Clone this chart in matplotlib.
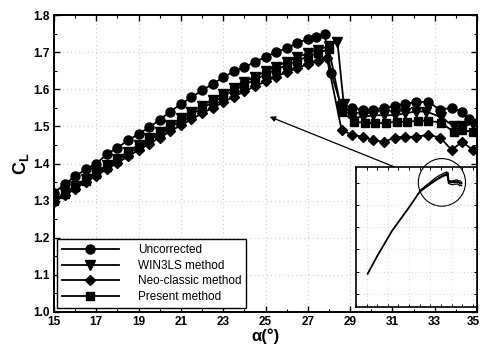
import matplotlib
matplotlib.use("Agg")
import matplotlib.pyplot as plt
from matplotlib.patches import Ellipse
from matplotlib.ticker import MultipleLocator, NullFormatter
from matplotlib.transforms import ScaledTranslation

# ---------------- data ----------------
a_unc = [15, 15.5, 16, 16.5, 17, 17.5, 18, 18.5, 19, 19.5, 20, 20.5, 21, 21.5, 22, 22.5,
         23, 23.5, 24, 24.5, 25, 25.5, 26, 26.5, 27, 27.4, 27.8,
         28.1, 28.55, 29.1, 29.6, 30.1, 30.6, 31.1, 31.6, 32.1, 32.7, 33.25, 33.8, 34.3, 34.6]
cl_unc = [1.32, 1.345, 1.365, 1.385, 1.40, 1.425, 1.443, 1.462, 1.48, 1.497, 1.518, 1.54, 1.56,
          1.578, 1.597, 1.614, 1.632, 1.648, 1.66, 1.673, 1.687, 1.70, 1.71, 1.725, 1.735, 1.742, 1.75,
          1.645, 1.56, 1.55, 1.545, 1.545, 1.55, 1.555, 1.56, 1.566, 1.566, 1.545, 1.55, 1.54, 1.52]

a_win = [15, 15.5, 16, 16.5, 17, 17.5, 18, 18.5, 19, 19.5, 20, 20.5, 21, 21.5, 22, 22.5,
         23, 23.5, 24, 24.5, 25, 25.5, 26, 26.5, 27, 27.5, 28,
         28.4, 28.7, 29.1, 29.6, 30.1, 30.6, 31.1, 31.6, 32.1, 32.6, 33.3, 33.9, 34.3, 34.8]
cl_win = [1.30, 1.32, 1.34, 1.358, 1.376, 1.395, 1.413, 1.432, 1.45, 1.468, 1.486, 1.504, 1.522,
          1.539, 1.556, 1.572, 1.588, 1.604, 1.619, 1.634, 1.648, 1.661, 1.674, 1.686, 1.697, 1.707, 1.716,
          1.728, 1.56, 1.525, 1.525, 1.53, 1.53, 1.53, 1.535, 1.54, 1.54, 1.525, 1.50, 1.50, 1.507]

a_neo = [15, 15.5, 16, 16.5, 17, 17.5, 18, 18.5, 19, 19.5, 20, 20.5, 21, 21.5, 22, 22.5,
         23, 23.5, 24, 24.5, 25, 25.5, 26, 26.5, 27, 27.5, 27.9,
         28.6, 29.1, 29.6, 30.1, 30.6, 31.1, 31.6, 32.1, 32.7, 33.25, 33.8, 34.3, 34.8]
cl_neo = [1.296, 1.314, 1.332, 1.35, 1.367, 1.385, 1.402, 1.419, 1.436, 1.453, 1.47, 1.487, 1.503,
          1.519, 1.535, 1.55, 1.565, 1.58, 1.594, 1.608, 1.621, 1.634, 1.646, 1.657, 1.667, 1.676, 1.685,
          1.49, 1.477, 1.472, 1.463, 1.458, 1.47, 1.472, 1.472, 1.477, 1.47, 1.437, 1.458, 1.437]

a_pres = [15, 15.5, 16, 16.5, 17, 17.5, 18, 18.5, 19, 19.5, 20, 20.5, 21, 21.5, 22, 22.5,
          23, 23.5, 24, 24.5, 25, 25.5, 26, 26.5, 27, 27.5, 28,
          28.6, 29.2, 29.7, 30.2, 30.7, 31.2, 31.7, 32.2, 32.7, 33.3, 33.9, 34.3, 34.8]
cl_pres = [1.298, 1.317, 1.336, 1.354, 1.372, 1.39, 1.408, 1.426, 1.444, 1.462, 1.48, 1.498, 1.515,
           1.532, 1.549, 1.565, 1.581, 1.597, 1.612, 1.626, 1.64, 1.653, 1.665, 1.677, 1.688, 1.698, 1.708,
           1.54, 1.512, 1.51, 1.508, 1.51, 1.512, 1.512, 1.515, 1.515, 1.51, 1.485, 1.49, 1.485]

# low-angle part of the full curve shown in the inset
a_low = [-9.5, -5, 2, 10, 15]
cl_low = [-0.55, -0.15, 0.42, 0.95, 1.3]

labels = ["Uncorrected", "WIN3LS method", "Neo-classic method", "Present method"]
xticks = [15, 17, 19, 21, 23, 25, 27, 29, 31, 33, 35]
yticks = [1.0, 1.1, 1.2, 1.3, 1.4, 1.5, 1.6, 1.7, 1.8]

# ---------------- figure ----------------
plt.rcParams['font.family'] = ['Liberation Sans', 'DejaVu Sans']
plt.rcParams['mathtext.fontset'] = 'custom'
plt.rcParams['mathtext.rm'] = 'Liberation Sans:bold'
plt.rcParams['mathtext.bf'] = 'Liberation Sans:bold'
plt.rcParams['mathtext.it'] = 'Liberation Sans:bold'

fig = plt.figure(figsize=(4.82, 3.47), dpi=100)
ax = fig.add_axes([54/482, 1-312/347, (477-54)/482, (312-15)/347])

series = [(a_unc, cl_unc, 'o', 6.5), (a_win, cl_win, 'v', 6.5),
          (a_neo, cl_neo, 'D', 5.2), (a_pres, cl_pres, 's', 6.0)]
for (a, c, m, ms), lab in zip(series, labels):
    ax.plot(a, c, color='black', marker=m, markersize=ms, linewidth=1.3, label=lab)

ax.set_xlim(15, 35)
ax.set_ylim(1.0, 1.8)
ax.set_xticks(xticks)
ax.set_yticks(yticks)
ax.set_yticklabels([f"{v:.1f}" for v in yticks])
ax.xaxis.set_minor_locator(MultipleLocator(1))
ax.yaxis.set_minor_locator(MultipleLocator(0.05))
ax.tick_params(which='both', direction='in', top=True, right=True)
ax.tick_params(which='major', length=4, width=1, labelsize=8.5, pad=3)
ax.tick_params(which='minor', length=2, width=0.8)
for lbl in ax.get_xticklabels() + ax.get_yticklabels():
    lbl.set_fontweight('bold')
# keep the last x tick label inside the figure edge
last = ax.get_xticklabels()[-1]
last.set_transform(last.get_transform() + ScaledTranslation(-4/100, 0, fig.dpi_scale_trans))
for sp in ax.spines.values():
    sp.set_linewidth(1.4)
ax.grid(True, which='major', linestyle=(0, (1, 4)), color='#b0b0b0', linewidth=0.6)

ax.set_ylabel(r'$\mathbf{C_L}$', fontsize=13, labelpad=2)
ax.set_xlabel('α(°)', fontsize=12, fontweight='bold', labelpad=0)

leg = ax.legend(loc='lower left', bbox_to_anchor=(0.008, 0.015), fontsize=8.5,
                frameon=True, fancybox=False, edgecolor='black', framealpha=1,
                handlelength=4.8, handletextpad=1.6, labelspacing=0.3,
                borderpad=0.4, borderaxespad=0)
leg.get_frame().set_linewidth(1.0)

# arrow from inset circle to stall region
ax.annotate('', xy=(25.2, 1.526), xytext=(32.0, 1.37),
            arrowprops=dict(arrowstyle='-|>', color='black', lw=0.9,
                            mutation_scale=8, shrinkA=0, shrinkB=0))

# ---------------- inset ----------------
axi = fig.add_axes([356/482, 1-307/347, (477-356)/482, (307-167)/347])
axi.plot(a_low, cl_low, color='black', linewidth=1.3)
for a, c, m, ms in series:
    axi.plot(a, c, color='black', linewidth=0.9)
axi.set_xlim(-15, 42)
axi.set_ylim(-1.3, 1.86)
axi.xaxis.set_major_locator(MultipleLocator(10))
axi.xaxis.set_minor_locator(MultipleLocator(5))
axi.yaxis.set_major_locator(MultipleLocator(0.5))
axi.xaxis.set_major_formatter(NullFormatter())
axi.yaxis.set_major_formatter(NullFormatter())
axi.tick_params(which='both', direction='in', top=True, right=True, length=2.5, width=0.7)
axi.grid(True, which='major', linestyle=(0, (1, 4)), color='#b0b0b0', linewidth=0.5)
for sp in axi.spines.values():
    sp.set_linewidth(1.2)
circ = Ellipse((0.71, 0.89), 0.39, 0.34, transform=axi.transAxes, fill=False,
               edgecolor='black', linewidth=0.8, clip_on=False)
axi.add_patch(circ)

fig.savefig('out.png', dpi=100)
